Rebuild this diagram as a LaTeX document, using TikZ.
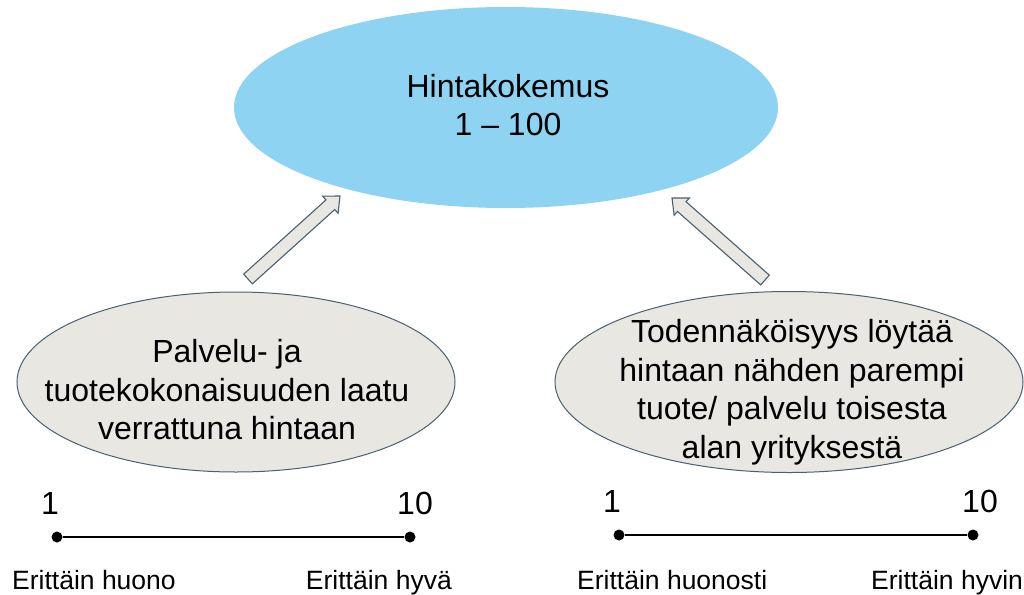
\documentclass[tikz,border=0pt]{standalone}
\usepackage{fontspec}
\setmainfont{Liberation Sans}
\usetikzlibrary{calc,shapes.geometric}
\definecolor{skyfill}{HTML}{8ED3F2}
\definecolor{greyfill}{HTML}{E9E7E2}
\definecolor{slateline}{HTML}{4A5F70}
\newcommand\blockarrow[2]{%
  \coordinate (ba-b) at ($(#2)!13pt!(#1)$);
  \draw[arrowbox] ($(#1)!6.5pt!90:(#2)$) -- ($(ba-b)!6.5pt!-90:(#1)$) -- ($(ba-b)!11.5pt!-90:(#1)$) -- (#2) -- ($(ba-b)!11.5pt!90:(#1)$) -- ($(ba-b)!6.5pt!90:(#1)$) -- ($(#1)!6.5pt!-90:(#2)$) -- cycle;}
\begin{document}
\begin{tikzpicture}[x=1pt,y=-1pt,
  topell/.style={ellipse, fill=skyfill, inner sep=0pt},
  sideell/.style={ellipse, fill=greyfill, draw=slateline, line width=1pt, inner sep=0pt},
  bigtext/.style={font=\fontsize{32}{38.5}\selectfont, align=center, inner sep=0pt},
  numtext/.style={font=\fontsize{32}{38}\selectfont, inner sep=0pt},
  smalltext/.style={font=\fontsize{26.5}{30}\selectfont, inner sep=0pt},
  arrowbox/.style={fill=greyfill, draw=slateline, line width=1.1pt, line join=miter},
  dot/.style={circle, fill=black, inner sep=0pt, minimum size=11pt},
  scaleline/.style={draw=black, line width=2.2pt}]
\useasboundingbox (0,0) rectangle (1024,594);
% top ellipse
\node[topell, minimum width=544pt, minimum height=201pt] (top) at (506,107.5) {};
\node[bigtext] (toptext) at (508,105) {Hintakokemus\\1 – 100};
% side ellipses
\node[sideell, minimum width=438pt, minimum height=180pt] (left) at (236,382) {};
\node[bigtext] (lefttext) at (227,390) {Palvelu- ja\\tuotekokonaisuuden laatu\\verrattuna hintaan};
\node[sideell, minimum width=468pt, minimum height=181pt] (right) at (789,382) {};
\node[bigtext, align=center] (righttext) at (792,392) {Todennäköisyys löytää\\hintaan nähden parempi\\tuote/ palvelu toisesta\\alan yrityksestä};
% block arrows
\coordinate (la-t) at (248,279);
\coordinate (la-h) at (340,196);
\coordinate (ra-t) at (765,280);
\coordinate (ra-h) at (672,198);
\blockarrow{la-t}{la-h}
\blockarrow{ra-t}{ra-h}
% left scale
\node[dot] (l1) at (57,537) {};
\node[dot] (l10) at (410,537) {};
\draw[scaleline] (l1) -- (l10);
\node[numtext, anchor=base] (ln1) at (50,514) {1};
\node[numtext, anchor=base] (ln10) at (415,514) {10};
\node[smalltext, anchor=base west] (llo) at (12,589) {Erittäin huono};
\node[smalltext, anchor=base east] (lhi) at (452,589) {Erittäin hyvä};
% right scale
\node[dot] (r1) at (619,535) {};
\node[dot] (r10) at (973,535) {};
\draw[scaleline] (r1) -- (r10);
\node[numtext, anchor=base] (rn1) at (612,512) {1};
\node[numtext, anchor=base] (rn10) at (980,512) {10};
\node[smalltext, anchor=base west] (rlo) at (577,589) {Erittäin huonosti};
\node[smalltext, anchor=base west] (rhi) at (871,589) {Erittäin hyvin};
\end{tikzpicture}
\end{document}
